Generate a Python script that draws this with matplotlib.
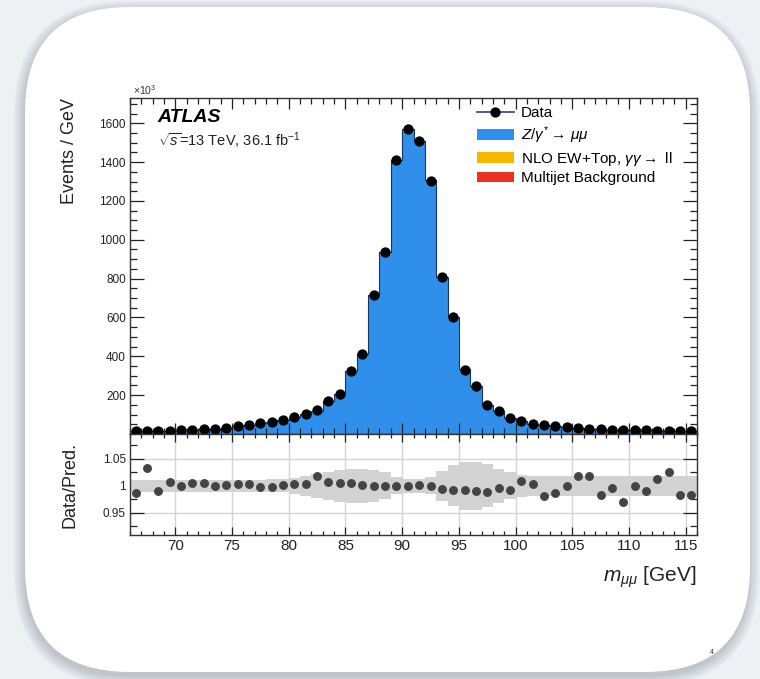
import numpy as np
import matplotlib
matplotlib.use("Agg")
import matplotlib.pyplot as plt
from matplotlib.patches import FancyBboxPatch, Patch
from matplotlib.lines import Line2D
from matplotlib.ticker import MultipleLocator, FixedLocator

plt.rcParams['font.family'] = ['Liberation Sans', 'DejaVu Sans']
plt.rcParams['mathtext.fontset'] = 'custom'
plt.rcParams['mathtext.rm'] = 'Liberation Sans'
plt.rcParams['mathtext.it'] = 'Liberation Sans:italic'
plt.rcParams['mathtext.bf'] = 'Liberation Sans:bold'

# ---- data: dimuon invariant mass, 1 GeV bins from 66 to 116 GeV ----
bin_edges = np.arange(66, 117, 1)

# events / GeV in units of 10^3
data_counts = [16, 16, 17, 18, 19, 21, 24, 27, 32, 40,
               48, 55, 63, 73, 88, 104, 122, 170, 207, 325,
               414, 716, 935, 1410, 1572, 1510, 1305, 806, 600, 330,
               247, 150, 119, 84, 67, 52, 45, 39, 34, 30,
               27, 25, 23, 21, 20, 19, 18, 17, 16, 16]

# data / prediction
ratio = [0.986, 1.033, 0.991, 1.007, 0.999, 1.006, 1.006, 0.999, 1.002, 1.003,
         1.003, 0.997, 0.997, 1.002, 1.003, 1.003, 1.018, 1.008, 1.006, 1.006,
         1.002, 0.999, 0.999, 0.999, 1.000, 1.001, 0.999, 0.994, 0.993, 0.993,
         0.991, 0.988, 0.996, 0.993, 1.009, 1.003, 0.982, 0.986, 0.999, 1.018,
         1.018, 0.983, 0.996, 0.971, 1.000, 0.991, 1.012, 1.026, 0.983, 0.983]

# relative uncertainty of the prediction
band = [0.011, 0.011, 0.011, 0.011, 0.011, 0.011, 0.011, 0.011, 0.011, 0.011,
        0.011, 0.011, 0.012, 0.012, 0.015, 0.018, 0.022, 0.026, 0.030, 0.032,
        0.032, 0.030, 0.025, 0.016, 0.013, 0.013, 0.016, 0.028, 0.038, 0.045,
        0.045, 0.040, 0.032, 0.025, 0.020, 0.019, 0.019, 0.019, 0.019, 0.019,
        0.019, 0.019, 0.019, 0.019, 0.019, 0.019, 0.019, 0.019, 0.019, 0.019]

# small backgrounds (10^3 events / GeV)
ew_top = [0.6] * 50
multijet = [0.4] * 50

legend_labels = ["Data",
                 r"$Z/\gamma^{*}\rightarrow\,\mu\mu$",
                 r"NLO EW+Top, $\gamma\gamma\rightarrow$ ll",
                 "Multijet Background"]

# ---- derived ----
data_counts = np.array(data_counts, float)
ratio = np.array(ratio)
band = np.array(band)
ew_top = np.array(ew_top)
multijet = np.array(multijet)
centers = 0.5 * (bin_edges[:-1] + bin_edges[1:])
total_pred = data_counts / ratio

C_BLUE = '#2f8fea'
C_ORANGE = '#f6b800'
C_RED = '#e6321e'

W, H = 760, 679
fig = plt.figure(figsize=(W / 100, H / 100), dpi=100, facecolor='#edf1f4')

# ---- rounded card with soft shadow ----
bg = fig.add_axes([0, 0, 1, 1], zorder=-10)
bg.set_xlim(0, W)
bg.set_ylim(H, 0)
bg.axis('off')
bx, by, bw, bh, rad = 25, 7, 725, 665, 105
for i in range(14):
    sh = FancyBboxPatch((bx - 1, by + 4), bw, bh,
                        boxstyle=f"round,pad={i * 0.8},rounding_size={rad + i * 0.8}",
                        fc='#44505a', ec='none', alpha=0.018)
    bg.add_patch(sh)
bg.add_patch(FancyBboxPatch((bx, by), bw, bh,
                            boxstyle=f"round,pad=0,rounding_size={rad}",
                            fc='white', ec='none'))
bg.text(712, 652, '4', fontsize=5, color='#333333', ha='center', va='center')


def px_rect(l, t, r, b):
    return [l / W, 1 - b / H, (r - l) / W, (b - t) / H]


ax = fig.add_axes(px_rect(130, 98, 697, 434))
axr = fig.add_axes(px_rect(130, 434, 697, 535), sharex=ax)

# ---- main panel ----
base = multijet + ew_top
ax.stairs(multijet, bin_edges, fill=True, color=C_RED, lw=0)
ax.stairs(base, bin_edges, baseline=multijet, fill=True, color=C_ORANGE, lw=0)
ax.stairs(total_pred, bin_edges, baseline=base, fill=True, color=C_BLUE, lw=0)
ax.stairs(total_pred, bin_edges, color='#17355f', lw=0.8)
ax.stairs(multijet + 0.8, bin_edges, color=C_RED, lw=1.0)
ax.plot(centers, data_counts, 'o', color='black', ms=6.4, zorder=5)

ax.set_xlim(66, 116)
ax.set_ylim(0, 1730)
ax.yaxis.set_major_locator(FixedLocator(np.arange(200, 1601, 200)))
ax.yaxis.set_minor_locator(MultipleLocator(50))
ax.xaxis.set_major_locator(MultipleLocator(5))
ax.xaxis.set_minor_locator(MultipleLocator(1))
ax.tick_params(which='both', direction='in', top=True, right=True,
               labelbottom=False, colors='#222222', width=0.9)
ax.tick_params(axis='y', which='major', length=10, labelsize=8.5, pad=3)
ax.tick_params(axis='y', which='minor', length=5)
ax.tick_params(axis='x', which='major', length=8)
ax.tick_params(axis='x', which='minor', length=4)
for s in ax.spines.values():
    s.set_color('#333333')
    s.set_linewidth(1.0)

ax.text(0.005, 1.003, r"$\times$10$^{3}$", transform=ax.transAxes,
        fontsize=7.5, ha='left', va='bottom', color='#333333')
ax.text(0.049, 0.943, "ATLAS", transform=ax.transAxes, fontsize=14,
        fontweight='bold', fontstyle='italic', ha='left', va='center')
ax.text(0.049, 0.872, r"$\sqrt{s}$=13 TeV, 36.1 fb$^{-1}$", transform=ax.transAxes,
        fontsize=10.5, ha='left', va='center', color='#222222')

handles = [Line2D([], [], color='#4b45a0', lw=1.3, marker='o', mfc='black',
                  mec='black', ms=6.4),
           Patch(facecolor=C_BLUE, edgecolor='none'),
           Patch(facecolor=C_ORANGE, edgecolor='none'),
           Patch(facecolor=C_RED, edgecolor='none')]
ax.legend(handles, legend_labels, loc='upper left', bbox_to_anchor=(0.612, 0.975),
          frameon=False, fontsize=11, handlelength=2.4, handleheight=0.7,
          handletextpad=0.45, labelspacing=0.25, borderpad=0, borderaxespad=0)

# ---- ratio panel ----
axr.fill_between(bin_edges, np.append(1 - band, 1 - band[-1]),
                 np.append(1 + band, 1 + band[-1]), step='post',
                 color='#d2d2d2', lw=0, zorder=2)
axr.plot(centers, ratio, 'o', color='#444444', ms=5.4, zorder=4)
axr.set_ylim(0.909, 1.096)
axr.yaxis.set_major_locator(FixedLocator([0.95, 1.0, 1.05]))
axr.yaxis.set_minor_locator(MultipleLocator(0.025))
axr.set_yticklabels(['0.95', '1', '1.05'])
axr.grid(True, which='major', color='#d4d4d4', lw=1.0, zorder=0)
axr.set_axisbelow(True)
axr.tick_params(which='both', direction='in', top=True, right=True,
                colors='#222222', width=0.9)
axr.tick_params(axis='y', which='major', length=10, labelsize=8.5, pad=3)
axr.tick_params(axis='y', which='minor', length=5)
axr.tick_params(axis='x', which='major', length=6, labelsize=11, pad=3)
axr.tick_params(axis='x', which='minor', length=3)
for s in axr.spines.values():
    s.set_color('#333333')
    s.set_linewidth(1.0)

fig.text(70 / W, 1 - 98 / H, "Events / GeV", rotation=90, ha='center', va='top',
         fontsize=13, color='#222222')
fig.text(70 / W, 1 - 485 / H, "Data/Pred.", rotation=90, ha='center', va='center',
         fontsize=13, color='#222222')
fig.text(697 / W, 1 - 577 / H, r"$m_{\mu\mu}$ [GeV]", ha='right', va='center',
         fontsize=15, color='#222222')

fig.savefig("out.png", dpi=100, facecolor=fig.get_facecolor())
